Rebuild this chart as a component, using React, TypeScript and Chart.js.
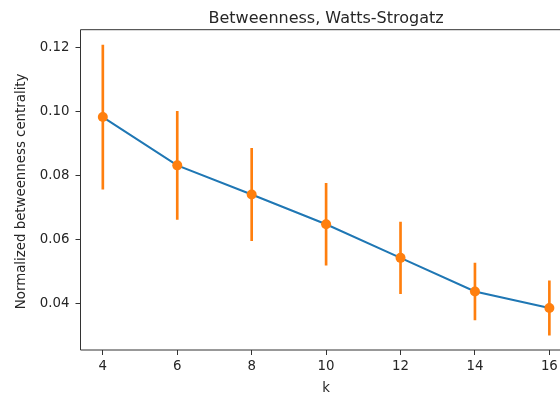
import React, { useEffect, useRef } from "react";
import { Chart, registerables } from "chart.js";

Chart.register(...registerables);

const kValues = [4, 6, 8, 10, 12, 14, 16];
const meanBetweenness = [0.0982, 0.0831, 0.074, 0.0647, 0.0542, 0.0437, 0.0385];
const stdBetweenness = [0.0225, 0.0169, 0.0144, 0.0128, 0.0112, 0.0089, 0.0085];
const xTickValues = [4, 6, 8, 10, 12, 14, 16];
const yTickValues = [0.04, 0.06, 0.08, 0.1, 0.12];
const titleText = "Betweenness, Watts-Strogatz";
const xLabel = "k";
const yLabel = "Normalized betweenness centrality";

const FONT = "'DejaVu Sans', sans-serif";
const TEXT = "#262626";
const SPINE = "#333333";

const decorPlugin = {
  id: "decor",
  afterDatasetsDraw(chart: any) {
    const { ctx, chartArea } = chart;
    const { left, right, top, bottom } = chartArea;
    ctx.save();
    // spines (right spine lies outside the visible window)
    ctx.strokeStyle = SPINE;
    ctx.lineWidth = 1;
    ctx.beginPath();
    ctx.moveTo(left, top);
    ctx.lineTo(right, top);
    ctx.moveTo(left, top);
    ctx.lineTo(left, bottom);
    ctx.lineTo(right, bottom);
    ctx.stroke();
    ctx.restore();
  },
  afterDraw(chart: any) {
    const { ctx, chartArea } = chart;
    const { left, right, top, bottom } = chartArea;
    const cx = (left + right) / 2;
    ctx.save();
    ctx.fillStyle = TEXT;
    ctx.textAlign = "center";
    ctx.textBaseline = "alphabetic";
    ctx.font = `16px ${FONT}`;
    ctx.fillText(titleText, cx, 22.5);
    ctx.font = `13.33px ${FONT}`;
    ctx.fillText(xLabel, cx, 391.5);
    ctx.translate(24.5, (top + bottom) / 2 + 1.5);
    ctx.rotate(-Math.PI / 2);
    ctx.fillText(yLabel, 0, 0);
    ctx.restore();
  },
};

export default function App() {
  const canvasRef = useRef<HTMLCanvasElement | null>(null);

  useEffect(() => {
    document.body.style.margin = "0";
    const canvas = canvasRef.current;
    if (!canvas) return;
    const lineData = kValues.map((k, i) => ({ x: k, y: meanBetweenness[i] }));
    const errData = kValues.map((k, i) => ({
      x: k,
      y: [meanBetweenness[i] - stdBetweenness[i], meanBetweenness[i] + stdBetweenness[i]],
    }));
    const chart = new Chart(canvas, {
      type: "line",
      data: {
        datasets: [
          {
            type: "line",
            data: lineData,
            borderColor: "#1f77b4",
            borderWidth: 2,
            pointRadius: 0,
            fill: false,
            tension: 0,
            order: 3,
          },
          {
            type: "bar",
            data: errData as any,
            backgroundColor: "#ff7f0e",
            borderWidth: 0,
            barThickness: 2,
            order: 2,
          },
          {
            type: "scatter",
            data: lineData,
            backgroundColor: "#ff7f0e",
            borderColor: "#ff7f0e",
            borderWidth: 0,
            pointRadius: 5,
            showLine: false,
            order: 1,
          },
        ],
      } as any,
      options: {
        animation: false,
        responsive: false,
        events: [],
        layout: { padding: { top: 29.7, right: 8.3, left: 0, bottom: 0 } },
        plugins: {
          legend: { display: false },
          tooltip: { enabled: false },
          title: { display: false },
        },
        scales: {
          x: {
            type: "linear",
            min: 3.4,
            max: 16.6,
            offset: false,
            grid: {
              offset: false,
              display: true,
              drawOnChartArea: false,
              drawTicks: true,
              tickLength: 5,
              tickColor: SPINE,
            },
            border: { display: false },
            ticks: {
              font: { family: FONT, size: 13.33 },
              color: TEXT,
              padding: 4,
              maxRotation: 0,
              autoSkip: false,
            },
            afterBuildTicks: (scale: any) => {
              scale.ticks = xTickValues.map((v) => ({ value: v }));
            },
            afterFit: (scale: any) => {
              scale.height = 45;
            },
          },
          y: {
            type: "linear",
            min: 0.0254,
            max: 0.1255,
            grid: {
              display: true,
              drawOnChartArea: false,
              drawTicks: true,
              tickLength: 5,
              tickColor: SPINE,
            },
            border: { display: false },
            ticks: {
              font: { family: FONT, size: 13.33 },
              color: TEXT,
              padding: 6,
              autoSkip: false,
              callback: (v: any) => Number(v).toFixed(2),
            },
            afterBuildTicks: (scale: any) => {
              scale.ticks = yTickValues.map((v) => ({ value: v }));
            },
            afterFit: (scale: any) => {
              scale.width = 80.5;
            },
          },
        },
      } as any,
      plugins: [decorPlugin],
    });
    return () => chart.destroy();
  }, []);

  return (
    <div
      style={{
        position: "fixed",
        left: 0,
        top: 0,
        width: 560,
        height: 395,
        overflow: "hidden",
        background: "#ffffff",
      }}
    >
      <canvas ref={canvasRef} width={580} height={395} style={{ display: "block" }} />
    </div>
  );
}
